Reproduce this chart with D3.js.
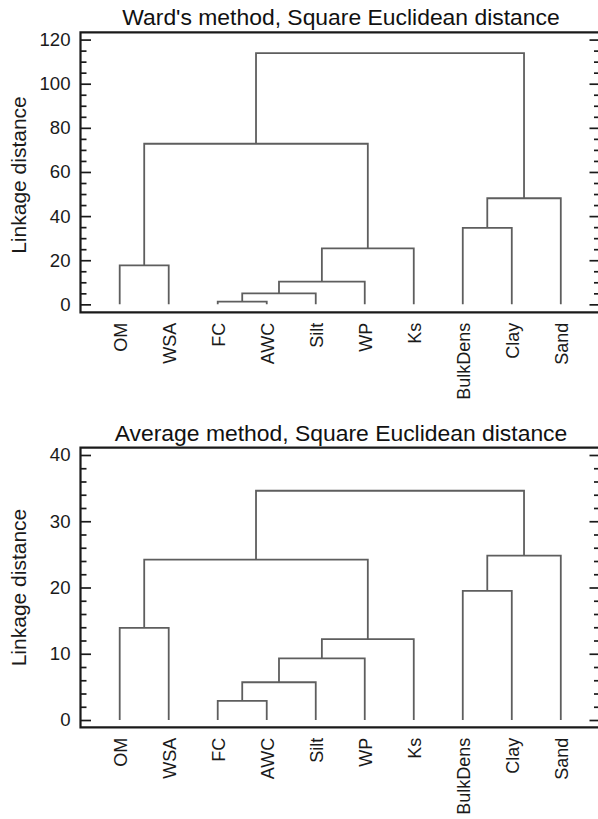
<!DOCTYPE html>
<html>
<head>
<meta charset="utf-8">
<script src="https://cdn.jsdelivr.net/npm/d3@7"></script>
<style>
	body { margin: 0; background: #fff; }
	svg { display: block; font-family: "Liberation Sans", Arial, Helvetica, sans-serif; }
	.axis path.domain { display: none; }
	.axis line { stroke: #1a1a1a; stroke-width: 1.7; }
	.axis text { font-size: 18.6px; fill: #1a1a1a; }
	.leaves text { font-size: 18px; fill: #1a1a1a; }
</style>
</head>
<body>
<div id="root"></div>
<script>
// variables (leaf order as drawn)
const leaves = ["OM", "WSA", "FC", "AWC", "Silt", "WP", "Ks", "BulkDens", "Clay", "Sand"];

// merge topology, same for both methods: a number points to an earlier merge
const mergeLeft = ["FC", 0, 1, "OM", 2, "BulkDens", 5, 3, 7];
const mergeRight = ["AWC", "Silt", "WP", "WSA", "Ks", "Clay", "Sand", 4, 6];

// linkage distance of each merge
const wardHeights = [1.2, 5.0, 10.3, 17.7, 25.4, 34.7, 48.1, 72.8, 113.9];
const averageHeights = [2.9, 5.7, 9.3, 13.9, 12.2, 19.5, 24.8, 24.2, 34.6];

const wardTicks = [0, 20, 40, 60, 80, 100, 120];
const averageTicks = [0, 10, 20, 30, 40];

const width = 598, height = 819;

const svg = d3.select("#root").append("svg")
	.attr("width", width)
	.attr("height", height);

const drawPanel = (opts) => {
	const { top, bottom, left, right, domain, heights, ticks, minorStep, title, titleY, labelY } = opts;

	const x = d3.scalePoint()
		.domain(leaves)
		.range([left, right])
		.padding(0.8);

	const y = d3.scaleLinear()
		.domain(domain)
		.range([bottom, top]);

	const g = svg.append("g");

	// title
	g.append("text")
		.attr("x", 341)
		.attr("y", titleY)
		.attr("text-anchor", "middle")
		.style("font-size", "22.9px")
		.style("fill", "#111")
		.text(title);

	// y label
	g.append("text")
		.attr("transform", "translate(25.5," + labelY + ") rotate(-90)")
		.attr("text-anchor", "middle")
		.style("font-size", "21px")
		.style("fill", "#1a1a1a")
		.text("Linkage distance");

	// minor ticks
	const minor = d3.range(0, ticks[ticks.length - 1] + 0.001, minorStep)
		.filter((v) => !ticks.includes(v));
	g.append("g")
		.attr("class", "axis")
		.attr("transform", "translate(" + left + ",0)")
		.call(d3.axisLeft(y).tickValues(minor).tickSize(-6).tickFormat(""));
	g.append("g")
		.attr("class", "axis")
		.attr("transform", "translate(" + right + ",0)")
		.call(d3.axisRight(y).tickValues(minor).tickSize(-6).tickFormat(""));

	// major ticks
	g.append("g")
		.attr("class", "axis")
		.attr("transform", "translate(" + left + ",0)")
		.call(d3.axisLeft(y).tickValues(ticks).tickSize(-10.5).tickPadding(10).tickFormat(d3.format("d")));
	g.append("g")
		.attr("class", "axis")
		.attr("transform", "translate(" + right + ",0)")
		.call(d3.axisRight(y).tickValues(ticks).tickSize(-10.5).tickFormat(""));

	// leaf labels
	g.append("g")
		.attr("class", "leaves")
		.attr("transform", "translate(0," + bottom + ")")
		.call(d3.axisBottom(x).tickSize(0))
		.call((a) => a.select(".domain").remove())
		.selectAll("text")
		.attr("y", 0)
		.attr("x", -10.5)
		.attr("dy", "0.35em")
		.attr("text-anchor", "end")
		.attr("transform", "rotate(-90)");

	// dendrogram
	const nodes = [];
	const pos = (ref) => (typeof ref === "number" ? nodes[ref] : { x: x(ref), h: 0 });
	const lines = g.append("g")
		.attr("fill", "none")
		.attr("stroke", "#5e5e5e")
		.attr("stroke-width", 1.8);
	heights.forEach((h, i) => {
		const a = pos(mergeLeft[i]);
		const b = pos(mergeRight[i]);
		lines.append("path")
			.attr("d", "M" + a.x + "," + y(a.h) + "V" + y(h) + "H" + b.x + "V" + y(b.h));
		nodes.push({ x: (a.x + b.x) / 2, h: h });
	});

	// frame
	g.append("path")
		.attr("d", "M" + right + "," + top + "H" + left + "V" + bottom + "H" + right)
		.attr("fill", "none")
		.attr("stroke", "#1a1a1a")
		.attr("stroke-width", 2.2);
};

drawPanel({
	top: 32.3, bottom: 312.3, left: 80.5, right: 600,
	domain: [-3.6, 123.3],
	heights: wardHeights,
	ticks: wardTicks,
	minorStep: 5,
	title: "Ward's method, Square Euclidean distance",
	titleY: 25,
	labelY: 175
});

drawPanel({
	top: 447.7, bottom: 727.3, left: 80.5, right: 600,
	domain: [-1.1, 41.1],
	heights: averageHeights,
	ticks: averageTicks,
	minorStep: 2,
	title: "Average method, Square Euclidean distance",
	titleY: 440.7,
	labelY: 587.5
});
</script>
</body>
</html>
